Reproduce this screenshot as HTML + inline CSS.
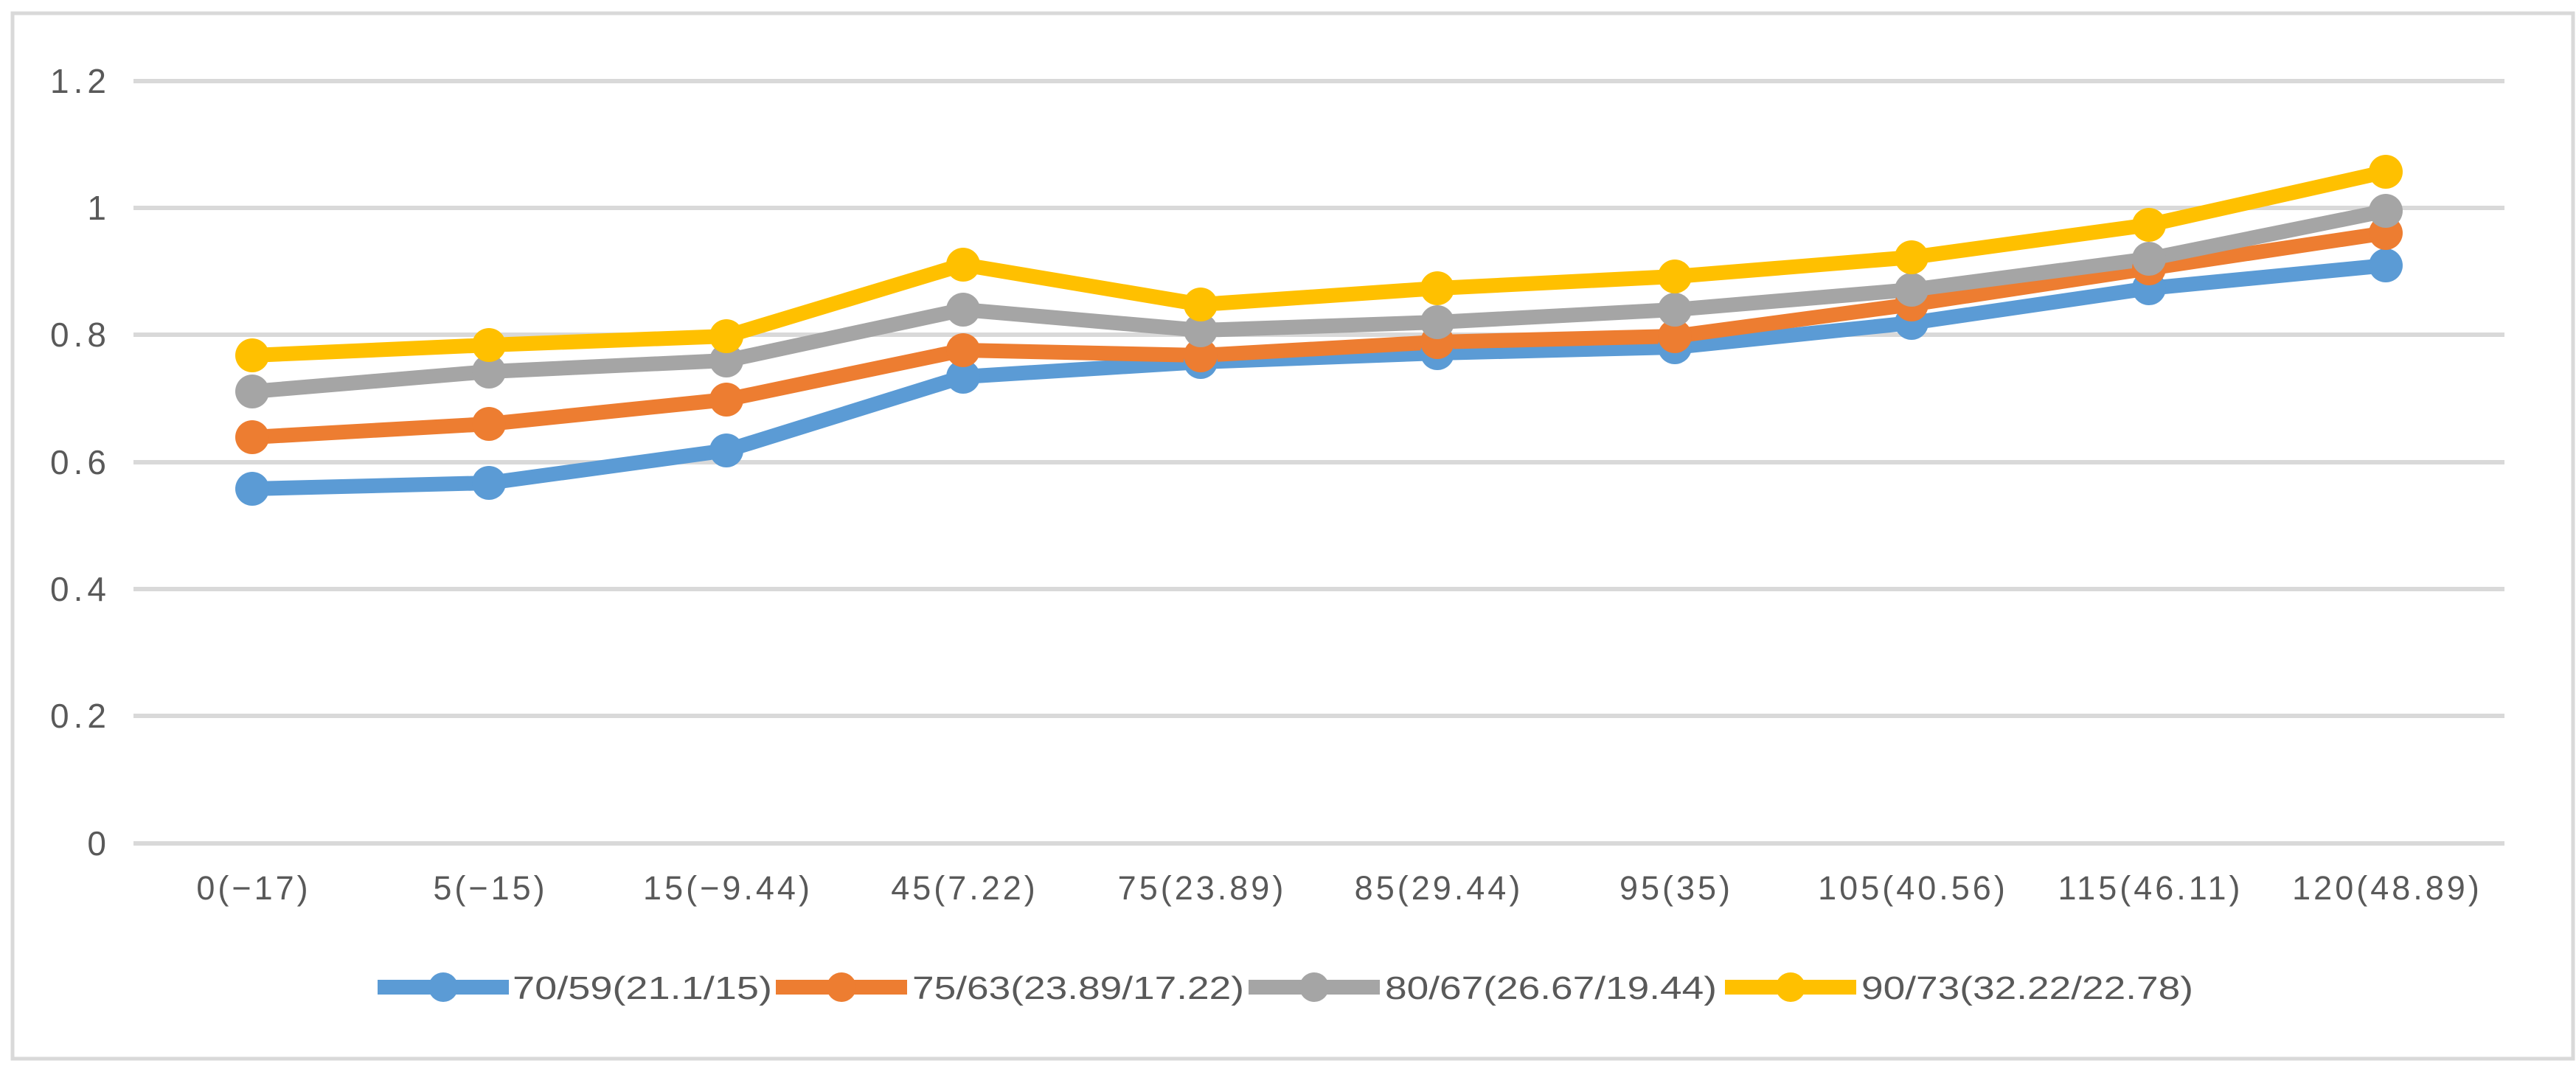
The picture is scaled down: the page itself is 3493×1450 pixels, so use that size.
<!DOCTYPE html>
<html><head><meta charset="utf-8"><style>
html,body{margin:0;padding:0;background:#fff;}
svg{display:block;}
text{font-family:"Liberation Sans","Noto Sans CJK SC",sans-serif;fill:#595959;}
</style></head><body>
<svg width="3493" height="1450" viewBox="0 0 3493 1450" xmlns="http://www.w3.org/2000/svg">
<rect x="17" y="18" width="3472" height="1418" fill="#fff" stroke="#d9d9d9" stroke-width="5"/>
<g stroke="#d9d9d9" stroke-width="6">
<line x1="181" x2="3396" y1="110" y2="110"/>
<line x1="181" x2="3396" y1="282" y2="282"/>
<line x1="181" x2="3396" y1="454" y2="454"/>
<line x1="181" x2="3396" y1="627" y2="627"/>
<line x1="181" x2="3396" y1="799" y2="799"/>
<line x1="181" x2="3396" y1="971" y2="971"/>
<line x1="181" x2="3396" y1="1144" y2="1144"/>
</g>
<g font-size="46" text-anchor="end" letter-spacing="6">
<text x="150" y="126">1.2</text>
<text x="150" y="298">1</text>
<text x="150" y="470">0.8</text>
<text x="150" y="643">0.6</text>
<text x="150" y="815">0.4</text>
<text x="150" y="987">0.2</text>
<text x="150" y="1160">0</text>
</g>
<g font-size="45" text-anchor="middle" letter-spacing="4">
<text x="344" y="1220">0(−17)</text>
<text x="665" y="1220">5(−15)</text>
<text x="987" y="1220">15(−9.44)</text>
<text x="1308" y="1220">45(7.22)</text>
<text x="1630" y="1220">75(23.89)</text>
<text x="1951" y="1220">85(29.44)</text>
<text x="2273" y="1220">95(35)</text>
<text x="2594" y="1220">105(40.56)</text>
<text x="2916" y="1220">115(46.11)</text>
<text x="3237" y="1220">120(48.89)</text>
</g>
<g fill="none" stroke-width="20" stroke-linejoin="round">
<polyline stroke="#5b9bd5" points="342,663 663,655 985,611 1306,511 1628,491 1949,479 2271,471 2592,438 2914,391 3235,360"/>
<polyline stroke="#ed7d31" points="342,593 663,575 985,542 1306,475 1628,482 1949,464 2271,456 2592,413 2914,364 3235,316"/>
<polyline stroke="#a5a5a5" points="342,531 663,504 985,489 1306,420 1628,448 1949,437 2271,420 2592,393 2914,351 3235,286"/>
<polyline stroke="#ffc000" points="342,482 663,468 985,456 1306,359 1628,413 1949,391 2271,375 2592,349 2914,305 3235,233"/>
</g>
<g fill="#5b9bd5"><circle cx="342" cy="663" r="23"/><circle cx="663" cy="655" r="23"/><circle cx="985" cy="611" r="23"/><circle cx="1306" cy="511" r="23"/><circle cx="1628" cy="491" r="23"/><circle cx="1949" cy="479" r="23"/><circle cx="2271" cy="471" r="23"/><circle cx="2592" cy="438" r="23"/><circle cx="2914" cy="391" r="23"/><circle cx="3235" cy="360" r="23"/></g>
<g fill="#ed7d31"><circle cx="342" cy="593" r="23"/><circle cx="663" cy="575" r="23"/><circle cx="985" cy="542" r="23"/><circle cx="1306" cy="475" r="23"/><circle cx="1628" cy="482" r="23"/><circle cx="1949" cy="464" r="23"/><circle cx="2271" cy="456" r="23"/><circle cx="2592" cy="413" r="23"/><circle cx="2914" cy="364" r="23"/><circle cx="3235" cy="316" r="23"/></g>
<g fill="#a5a5a5"><circle cx="342" cy="531" r="23"/><circle cx="663" cy="504" r="23"/><circle cx="985" cy="489" r="23"/><circle cx="1306" cy="420" r="23"/><circle cx="1628" cy="448" r="23"/><circle cx="1949" cy="437" r="23"/><circle cx="2271" cy="420" r="23"/><circle cx="2592" cy="393" r="23"/><circle cx="2914" cy="351" r="23"/><circle cx="3235" cy="286" r="23"/></g>
<g fill="#ffc000"><circle cx="342" cy="482" r="23"/><circle cx="663" cy="468" r="23"/><circle cx="985" cy="456" r="23"/><circle cx="1306" cy="359" r="23"/><circle cx="1628" cy="413" r="23"/><circle cx="1949" cy="391" r="23"/><circle cx="2271" cy="375" r="23"/><circle cx="2592" cy="349" r="23"/><circle cx="2914" cy="305" r="23"/><circle cx="3235" cy="233" r="23"/></g>
<g stroke-width="20">
<line x1="512" x2="690" y1="1339" y2="1339" stroke="#5b9bd5"/><circle cx="601" cy="1339" r="20" fill="#5b9bd5"/>
<line x1="1052" x2="1230" y1="1339" y2="1339" stroke="#ed7d31"/><circle cx="1141" cy="1339" r="20" fill="#ed7d31"/>
<line x1="1693" x2="1871" y1="1339" y2="1339" stroke="#a5a5a5"/><circle cx="1782" cy="1339" r="20" fill="#a5a5a5"/>
<line x1="2339" x2="2517" y1="1339" y2="1339" stroke="#ffc000"/><circle cx="2428" cy="1339" r="20" fill="#ffc000"/>
</g>
<g font-size="44">
<text x="695" y="1355" textLength="352" lengthAdjust="spacingAndGlyphs">70/59(21.1/15)</text>
<text x="1237" y="1355" textLength="450" lengthAdjust="spacingAndGlyphs">75/63(23.89/17.22)</text>
<text x="1878" y="1355" textLength="450" lengthAdjust="spacingAndGlyphs">80/67(26.67/19.44)</text>
<text x="2524" y="1355" textLength="450" lengthAdjust="spacingAndGlyphs">90/73(32.22/22.78)</text>
</g>
</svg>
</body></html>
